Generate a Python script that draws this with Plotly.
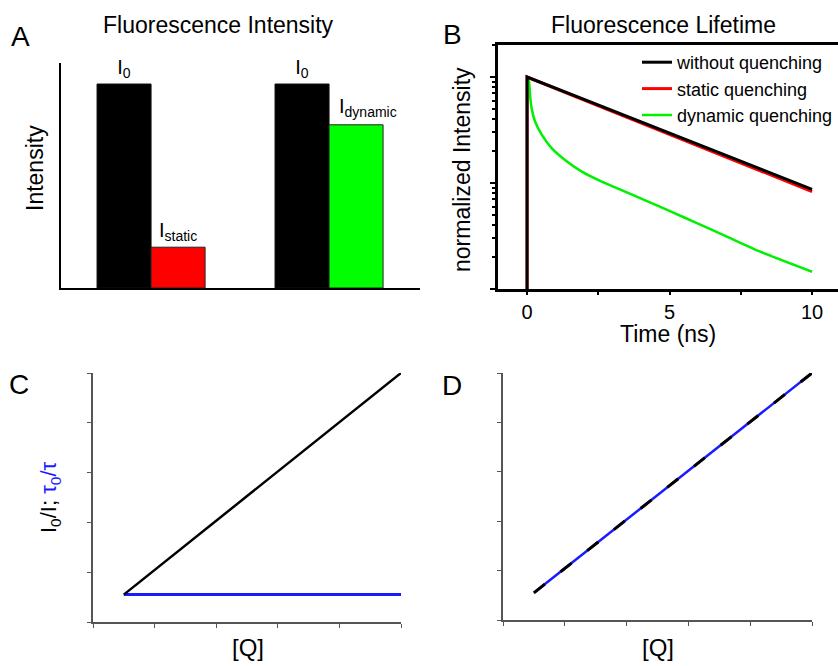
import plotly.graph_objects as go

W, H = 838, 666


def px(x):
    return x / W


def py(y):
    return 1 - y / H


FONT = "Arial, Liberation Sans, sans-serif"

# ---------------- Panel A: fluorescence intensity bars ----------------
groups = ["static", "dynamic"]
i0_vals = [1.0, 1.0]
quenched_vals = [0.20, 0.80]
i0_labels = ["I<sub>0</sub>", "I<sub>0</sub>"]
quenched_labels = ["I<sub>static</sub>", "I<sub>dynamic</sub>"]
quenched_colors = ["#ff0000", "#00ff00"]

# ---------------- Panel B: fluorescence lifetime decays ----------------
t_without = [0, 0, 2, 4, 6, 8, 10]
without_q = [0.01, 1.0, 0.614, 0.377, 0.232, 0.142, 0.087]
t_static = [0, 0, 2, 4, 6, 8, 10]
static_q = [0.01, 1.0, 0.606, 0.368, 0.223, 0.135, 0.083]
t_dynamic = [0.05, 0.07, 0.105, 0.16, 0.28, 0.52, 0.87, 1.33, 1.92, 2.62, 3.44, 4.37,
             5.19, 5.84, 7.01, 8.18, 10.0]
dynamic_q = [0.93, 0.90, 0.676, 0.507, 0.380, 0.284, 0.212, 0.165, 0.128, 0.103, 0.0828,
             0.0646, 0.0518, 0.0432, 0.0312, 0.0225, 0.01455]

# ---------------- Panel C: static quenching Stern-Volmer ----------------
q_c = [0.5, 5.0]
i0_over_i_c = [0.55, 5.0]
tau0_over_tau_c = [0.55, 0.55]

# ---------------- Panel D: dynamic quenching Stern-Volmer ----------------
q_d = [0.5, 5.0]
i0_over_i_d = [0.55, 5.0]
tau0_over_tau_d = [0.55, 5.0]

sv_ticks = [0, 1, 2, 3, 4, 5]

fig = go.Figure()

# Panel A traces
fig.add_trace(go.Bar(
    x=groups, y=i0_vals, marker=dict(color="#000000", line=dict(color="#111111", width=1)),
    text=i0_labels, textposition="outside", textfont=dict(size=20, color="black", family=FONT),
    cliponaxis=False, constraintext="none", xaxis="x", yaxis="y", showlegend=False,
))
fig.add_trace(go.Bar(
    x=groups, y=quenched_vals, marker=dict(color=quenched_colors, line=dict(color="#222222", width=1)),
    text=[quenched_labels[0], ""], textposition="outside",
    textfont=dict(size=20, color="black", family=FONT),
    cliponaxis=False, constraintext="none", xaxis="x", yaxis="y", showlegend=False,
))

# Panel B traces
fig.add_trace(go.Scatter(
    x=t_static, y=static_q, mode="lines", name="static quenching",
    line=dict(color="#ff0000", width=3), xaxis="x2", yaxis="y2", legendrank=2,
))
fig.add_trace(go.Scatter(
    x=t_dynamic, y=dynamic_q, mode="lines", name="dynamic quenching",
    line=dict(color="#00f000", width=2.5, shape="spline", smoothing=0.5),
    xaxis="x2", yaxis="y2", legendrank=3,
))
fig.add_trace(go.Scatter(
    x=t_without, y=without_q, mode="lines", name="without quenching",
    line=dict(color="#000000", width=3), xaxis="x2", yaxis="y2", legendrank=1,
))

# Panel C traces
fig.add_trace(go.Scatter(
    x=q_c, y=tau0_over_tau_c, mode="lines", line=dict(color="#1a1aff", width=3),
    xaxis="x3", yaxis="y3", showlegend=False,
))
fig.add_trace(go.Scatter(
    x=q_c, y=i0_over_i_c, mode="lines", line=dict(color="#000000", width=2.5),
    xaxis="x3", yaxis="y3", showlegend=False,
))

# Panel D traces
fig.add_trace(go.Scatter(
    x=q_d, y=tau0_over_tau_d, mode="lines", line=dict(color="#1a1aff", width=2.5),
    xaxis="x4", yaxis="y4", showlegend=False,
))
fig.add_trace(go.Scatter(
    x=q_d, y=i0_over_i_d, mode="lines", line=dict(color="#000000", width=3, dash="14px,20px"),
    xaxis="x4", yaxis="y4", showlegend=False,
))

log_major = [0.01, 0.1, 1]
log_minor = [m * d for d in [0.01, 0.1, 1] for m in range(2, 10)]

sv_axis = dict(showline=True, linecolor="#555555", linewidth=1.5, ticks="outside",
               ticklen=4, tickwidth=1.2, tickcolor="#555555", tickvals=sv_ticks,
               showticklabels=False, showgrid=False, zeroline=False, range=[0, 5])

fig.update_layout(
    width=W, height=H, margin=dict(l=0, r=0, t=0, b=0, autoexpand=False),
    paper_bgcolor="white", plot_bgcolor="white",
    font=dict(family=FONT, color="black"),
    barmode="group", bargap=0.393, bargroupgap=0,
    xaxis=dict(domain=[px(61), px(420)], anchor="y", range=[-0.506, 1.511],
               showline=True, linecolor="black", linewidth=2, showticklabels=False,
               ticks="", showgrid=False, zeroline=False),
    yaxis=dict(domain=[py(288), py(63)], anchor="x", range=[0, 1.103],
               showline=True, linecolor="black", linewidth=2, showticklabels=False,
               ticks="", showgrid=False, zeroline=False),
    xaxis2=dict(domain=[px(498), 1.0], anchor="y2", range=[-1.02, 10.91],
                showline=True, linecolor="black", linewidth=2.5, mirror=True,
                ticks="outside", ticklen=3, tickwidth=2, tickcolor="black",
                tickvals=[0, 5, 10], ticktext=["0", "5", "10"],
                tickfont=dict(size=20, family=FONT, color="black"),
                minor=dict(tickvals=[2.5, 7.5], ticks="outside", ticklen=3, tickwidth=2,
                           tickcolor="black"),
                showgrid=False, zeroline=False),
    yaxis2=dict(domain=[py(289), py(45)], anchor="x2", type="log", range=[-2, 0.302],
                showline=True, linecolor="black", linewidth=2.5,
                ticks="outside", ticklen=5, tickwidth=2, tickcolor="black",
                tickvals=log_major, showticklabels=False,
                minor=dict(tickvals=log_minor, ticks="outside", ticklen=3, tickwidth=1.5,
                           tickcolor="black"),
                showgrid=False, zeroline=False),
    xaxis3=dict(domain=[px(93), px(401)], anchor="y3", **sv_axis),
    yaxis3=dict(domain=[py(622), py(373)], anchor="x3", **sv_axis),
    xaxis4=dict(domain=[px(503), px(812)], anchor="y4", **sv_axis),
    yaxis4=dict(domain=[py(620), py(373)], anchor="x4", **sv_axis),
    legend=dict(x=1.0, y=py(44), xanchor="right", yanchor="top",
                font=dict(size=18, family=FONT, color="black"),
                bgcolor="rgba(0,0,0,0)", tracegroupgap=0, itemwidth=30),
)

# label of the dynamic-quenching bar, anchored to its value, set to the right as in the original
fig.add_annotation(text=quenched_labels[1], x=groups[1], y=quenched_vals[1], xref="x", yref="y",
                   showarrow=False, xanchor="left", yanchor="bottom", xshift=8, yshift=3,
                   font=dict(size=20, family=FONT, color="black"))


def ann(text, x, y, size, angle=0, color="black"):
    fig.add_annotation(text=text, x=px(x), y=py(y), xref="paper", yref="paper",
                       showarrow=False, xanchor="center", yanchor="middle",
                       textangle=angle, font=dict(size=size, family=FONT, color=color))


ann("A", 20, 36, 28)
ann("B", 452, 35, 28)
ann("C", 19, 384, 28)
ann("D", 452, 385, 28)
ann("Fluorescence Intensity", 218, 25, 23)
ann("Fluorescence Lifetime", 663, 25, 23)
ann("Intensity", 35, 168, 23, angle=-90)
ann("normalized Intensity", 462, 170, 23, angle=-90)
ann("Time (ns)", 668, 334, 23)
ann("I<sub>0</sub>/I; <span style='color:#1a1aff'>τ<sub>0</sub>/τ</span>", 50, 497, 22, angle=-90)
ann("[Q]", 248, 647, 24)
ann("[Q]", 658, 647, 24)

fig.write_html("out.html")
